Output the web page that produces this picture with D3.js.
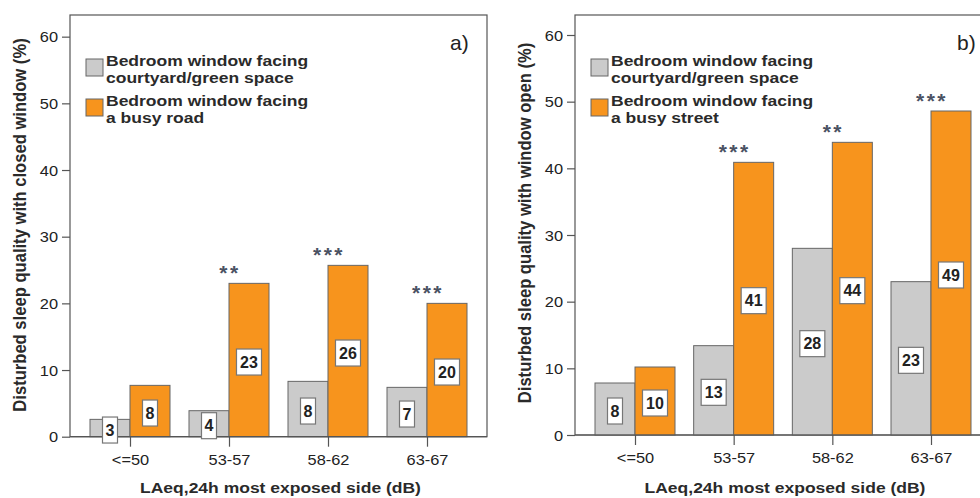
<!DOCTYPE html>
<html>
<head>
<meta charset="utf-8">
<script src="https://cdn.jsdelivr.net/npm/d3@7"></script>
<style>
  html, body { margin: 0; padding: 0; background: #fff; }
  svg { display: block; }
  text { font-family: "Liberation Sans", Arial, sans-serif; }
</style>
</head>
<body>
<svg id="chart" width="980" height="498"></svg>
<script>
// ---------- data ----------
const categories = ["<=50", "53-57", "58-62", "63-67"];
const yTicks = [0, 10, 20, 30, 40, 50, 60];

// panel a) closed window
const closedCourtyard = [2.6, 3.9, 8.3, 7.4];
const closedRoad      = [7.7, 23.0, 25.7, 20.0];
const closedCourtyardLabels = ["3", "4", "8", "7"];
const closedRoadLabels      = ["8", "23", "26", "20"];
const closedStars = ["", "**", "***", "***"];

// panel b) window open
const openCourtyard = [7.8, 13.4, 28.0, 23.0];
const openStreet    = [10.2, 40.9, 43.9, 48.6];
const openCourtyardLabels = ["8", "13", "28", "23"];
const openStreetLabels    = ["10", "41", "44", "49"];
const openStars = ["", "***", "**", "***"];

const legendA = [["Bedroom window facing", "courtyard/green space"], ["Bedroom window facing", "a busy road"]];
const legendB = [["Bedroom window facing", "courtyard/green space"], ["Bedroom window facing", "a busy street"]];
const yTitleA = "Disturbed sleep quality with closed window (%)";
const yTitleB = "Disturbed sleep quality with window open (%)";
const xTitle = "LAeq,24h most exposed side (dB)";

const GRAY = "#cbcbcb", ORANGE = "#f7941d", STROKE = "#666", AXIS = "#555";
const SX = 1.13; // horizontal stretch of the lettering

const svg = d3.select("#chart");

function stretchedText(g, x, y, txt, opts) {
  const t = g.append("g").attr("transform", `translate(${x},${y}) scale(${SX},1)`)
    .append("text").attr("x", 0).attr("y", 0).text(txt);
  Object.entries(opts).forEach(([k, v]) => t.attr(k, v));
  return t;
}

function panel(cfg) {
  const g = svg.append("g");
  const y = d3.scaleLinear().domain([0, cfg.yMax]).range([cfg.y0, cfg.top]);
  const x = d3.scalePoint().domain(categories).range([cfg.left + cfg.pad, cfg.right - cfg.pad]);
  const bw = 40;

  // frame
  g.append("rect").attr("x", cfg.left).attr("y", cfg.top)
    .attr("width", cfg.right - cfg.left).attr("height", cfg.y0 - cfg.top)
    .attr("fill", "none").attr("stroke", AXIS).attr("stroke-width", 1.2);

  // y axis
  const yAxis = g.append("g").attr("transform", `translate(${cfg.left},0)`)
    .call(d3.axisLeft(y).tickValues(yTicks).tickSize(8).tickPadding(4).tickFormat(d3.format("d")));
  yAxis.select(".domain").remove();
  yAxis.selectAll("line").attr("stroke", AXIS).attr("stroke-width", 1.2);
  yAxis.selectAll("text").attr("font-size", 14.5).attr("fill", "#222").attr("dy", "0.36em")
    .attr("x", -12 / SX).attr("transform", `scale(${SX},1)`);

  // bars
  const data = categories.map((c, i) => ({c, a: cfg.s1[i], b: cfg.s2[i], la: cfg.l1[i], lb: cfg.l2[i], st: cfg.stars[i]}));
  g.selectAll(".ba").data(data).join("rect")
    .attr("x", d => x(d.c) - bw).attr("y", d => y(d.a))
    .attr("width", bw).attr("height", d => y(0) - y(d.a))
    .attr("fill", GRAY).attr("stroke", STROKE).attr("stroke-width", 1);
  g.selectAll(".bb").data(data).join("rect")
    .attr("x", d => x(d.c)).attr("y", d => y(d.b))
    .attr("width", bw).attr("height", d => y(0) - y(d.b))
    .attr("fill", ORANGE).attr("stroke", STROKE).attr("stroke-width", 1);

  // baseline
  g.append("line").attr("x1", cfg.left).attr("x2", cfg.right)
    .attr("y1", y(0)).attr("y2", y(0)).attr("stroke", AXIS).attr("stroke-width", 1.2);

  // x axis ticks
  const xAxis = g.append("g").attr("transform", `translate(0,${y(0)})`)
    .call(d3.axisBottom(x).tickSize(10).tickPadding(8));
  xAxis.select(".domain").remove();
  xAxis.selectAll("line").attr("stroke", AXIS).attr("stroke-width", 1.2);
  xAxis.selectAll("text").attr("font-size", 14.5).attr("fill", "#222")
    .attr("transform", `scale(${SX},1)`);

  // value labels
  function label(cx, val, txt) {
    const w = txt.length > 1 ? 25 : 15, h = 26;
    const cy = y(val / 2) + 2;
    g.append("rect").attr("x", cx - w / 2).attr("y", cy - h / 2).attr("width", w).attr("height", h)
      .attr("fill", "#fff").attr("stroke", "#777").attr("stroke-width", 1.2);
    g.append("text").attr("x", cx).attr("y", cy).attr("dy", "0.36em")
      .attr("text-anchor", "middle").attr("font-size", 16).attr("font-weight", "bold")
      .attr("fill", "#222").text(txt);
  }
  data.forEach(d => {
    label(x(d.c) - bw / 2, d.a, d.la);
    label(x(d.c) + bw / 2, d.b, d.lb);
  });

  // significance stars
  g.selectAll(".st").data(data.filter(d => d.st)).join("text")
    .attr("x", d => x(d.c) + 1).attr("y", d => y(d.b) - 3)
    .attr("text-anchor", "middle").attr("font-size", 21).attr("font-weight", "bold")
    .attr("letter-spacing", 2.5)
    .attr("fill", "#4a5263").text(d => d.st);

  // legend
  cfg.legend.forEach((lines, i) => {
    const ly = cfg.legTop + i * 40;
    g.append("rect").attr("x", cfg.legX).attr("y", ly).attr("width", 17).attr("height", 17)
      .attr("fill", i === 0 ? GRAY : ORANGE).attr("stroke", "#666").attr("stroke-width", 1);
    lines.forEach((t, j) => {
      stretchedText(g, cfg.legX + 20, ly + 7 + j * 16.5, t,
        {"font-size": 15.5, "font-weight": "bold", "fill": "#2a2a2a"});
    });
  });

  // panel letter
  g.append("text").attr("x", cfg.letterX).attr("y", 50)
    .attr("font-family", "Liberation Serif, serif").attr("font-size", 21)
    .attr("fill", "#222").text(cfg.letter);

  // axis titles
  g.append("g").attr("transform", `translate(${cfg.yTitleX},${cfg.yTitleY}) scale(${SX},1) rotate(-90)`)
    .append("text").attr("text-anchor", "middle").attr("font-size", 16.6).attr("font-weight", "bold")
    .attr("fill", "#2a2a2a").text(cfg.yTitle);
  const r = x.range();
  stretchedText(g, (r[0] + r[1]) / 2 + 2, 493, xTitle,
    {"text-anchor": "middle", "font-size": 15.5, "font-weight": "bold", "fill": "#2a2a2a"});
}

panel({left: 70, right: 487, top: 15, y0: 436.7, yMax: 63.25, pad: 60,
  s1: closedCourtyard, s2: closedRoad, l1: closedCourtyardLabels, l2: closedRoadLabels, stars: closedStars,
  legend: legendA, legX: 86, legTop: 59, letter: "a)", letterX: 450, yTitle: yTitleA, yTitleX: 26, yTitleY: 225});
panel({left: 575, right: 991, top: 15, y0: 435, yMax: 63, pad: 60,
  s1: openCourtyard, s2: openStreet, l1: openCourtyardLabels, l2: openStreetLabels, stars: openStars,
  legend: legendB, legX: 591, legTop: 59, letter: "b)", letterX: 957, yTitle: yTitleB, yTitleX: 531, yTitleY: 223});
</script>
</body>
</html>
